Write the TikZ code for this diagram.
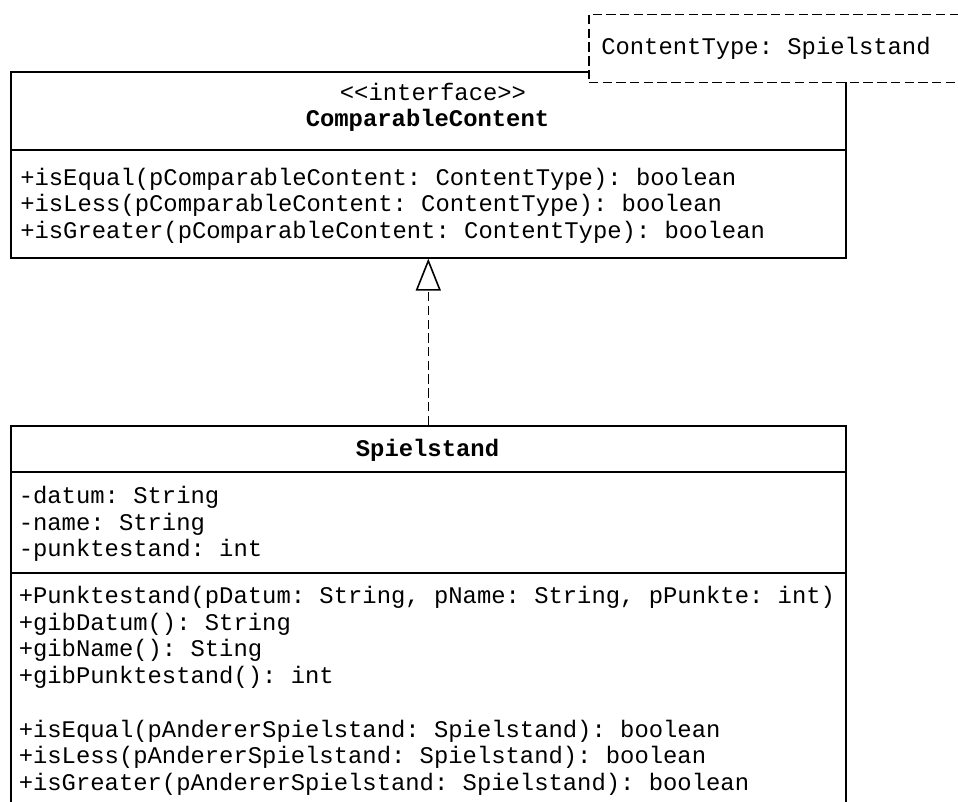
\documentclass[tikz,border=0pt]{standalone}
\usepackage{fontspec}
\setmonofont{Liberation Mono}
\usetikzlibrary{arrows.meta}
\newcommand\umlfont{\ttfamily\fontsize{17.9}{20}\selectfont}
\begin{document}
\begin{tikzpicture}[x=0.75pt,y=-0.75pt,
  classbox/.style={draw=black, line width=1.2pt, fill=white, inner sep=0pt,
    anchor=north west},
  notebox/.style={draw=black, line width=1.2pt, fill=white, inner sep=0pt,
    anchor=north west, dash pattern=on 7pt off 3.3pt},
  member/.style={font=\umlfont, anchor=base west, inner sep=0pt},
  title/.style={font=\umlfont\bfseries, anchor=base, inner sep=0pt},
  stereo/.style={font=\umlfont, anchor=base, inner sep=0pt},
  sep/.style={draw=black, line width=1.2pt},
  realize/.style={line width=1.2pt, dash pattern=on 7pt off 3.3pt,
    -{Triangle[open, width=18.75pt, length=24pt, fill=white]}}]
\useasboundingbox (0,0) rectangle (958,801);
\clip (0,0) rectangle (958,801);

% interface ComparableContent
\node[classbox, minimum width=626.25pt, minimum height=139.5pt] (iface) at (10,71) {};
\draw[sep] (iface.west |- 0,150) -- (iface.east |- 0,150);

% template parameter box overlapping the corner
\node[notebox, minimum width=309pt, minimum height=51pt] (ctype) at (588,13.5) {};
\node[member] (ctypetxt) at (601,54.5) {ContentType: Spielstand};

\node[stereo] (ster) at (433,100.5) {<<interface>>};
\node[title] (ifname) at (427.5,126) {ComparableContent};
\node[member] (im1) at (20,185) {+isEqual(pComparableContent: ContentType): boolean};
\node[member] (im2) at (20,211.7) {+isLess(pComparableContent: ContentType): boolean};
\node[member] (im3) at (20,238.3) {+isGreater(pComparableContent: ContentType): boolean};

% class Spielstand
\node[classbox, minimum width=626.25pt, minimum height=318.75pt] (cls) at (10,425) {};
\draw[sep] (cls.west |- 0,471.7) -- (cls.east |- 0,471.7);
\draw[sep] (cls.west |- 0,573) -- (cls.east |- 0,573);
\node[title] (clsname) at (427.5,456) {Spielstand};

\node[member] (a1) at (18.5,503.3) {-datum: String};
\node[member] (a2) at (18.5,530) {-name: String};
\node[member] (a3) at (18.5,556.7) {-punktestand: int};

\node[member] (m1) at (18.5,603.5) {+Punktestand(pDatum: String, pName: String, pPunkte: int)};
\node[member] (m2) at (18.5,630.2) {+gibDatum(): String};
\node[member] (m3) at (18.5,656.9) {+gibName(): Sting};
\node[member] (m4) at (18.5,683.6) {+gibPunktestand(): int};
\node[member] (m5) at (18.5,737) {+isEqual(pAndererSpielstand: Spielstand): boolean};
\node[member] (m6) at (18.5,763.7) {+isLess(pAndererSpielstand: Spielstand): boolean};
\node[member] (m7) at (18.5,790.4) {+isGreater(pAndererSpielstand: Spielstand): boolean};

% realization
\draw[realize] (cls.north) -- (iface.south);
\end{tikzpicture}
\end{document}
